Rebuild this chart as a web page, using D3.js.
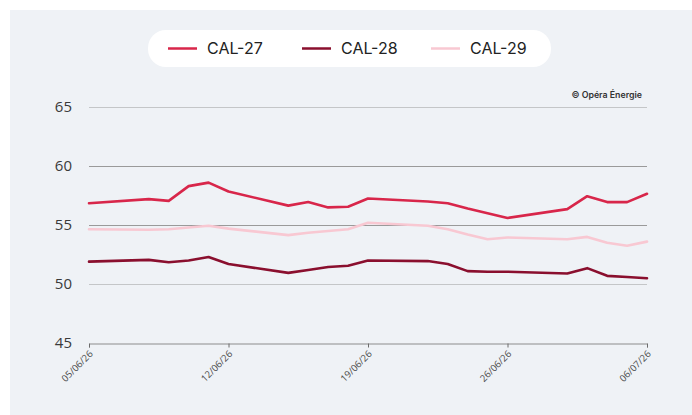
<!DOCTYPE html>
<html>
<head>
<meta charset="utf-8">
<script src="https://cdn.jsdelivr.net/npm/d3@7"></script>
<style>
  html, body { margin: 0; padding: 0; background: #ffffff; }
  svg { display: block; }
</style>
</head>
<body>
<svg id="chart" width="692" height="415"></svg>
<script>
// ---- Data ----
const dates = ["2026-06-05","2026-06-08","2026-06-09","2026-06-10","2026-06-11","2026-06-12",
  "2026-06-15","2026-06-16","2026-06-17","2026-06-18","2026-06-19",
  "2026-06-22","2026-06-23","2026-06-24","2026-06-25","2026-06-26",
  "2026-06-29","2026-06-30","2026-07-01","2026-07-02","2026-07-03"];
const seriesNames = ["CAL-27", "CAL-28", "CAL-29"];
const cal27 = [56.8, 57.15, 57.0, 58.25, 58.55, 57.8, 56.6, 56.9, 56.45, 56.5, 57.2,
  56.95, 56.8, 56.35, 55.95, 55.55, 56.3, 57.4, 56.9, 56.9, 57.6];
const cal28 = [51.85, 52.0, 51.8, 51.95, 52.25, 51.65, 50.9, 51.15, 51.4, 51.5, 51.95,
  51.9, 51.65, 51.05, 51.0, 51.0, 50.85, 51.3, 50.65, 50.55, 50.45];
const cal29 = [54.6, 54.55, 54.6, 54.75, 54.9, 54.65, 54.1, 54.3, 54.45, 54.6, 55.15,
  54.9, 54.6, 54.15, 53.75, 53.9, 53.75, 53.95, 53.45, 53.2, 53.55];
const yTicks = [45, 50, 55, 60, 65];
const xTickDates = ["2026-06-05","2026-06-12","2026-06-19","2026-06-26","2026-07-03"];
const xTickLabels = ["05/06/26","12/06/26","19/06/26","26/06/26","06/07/26"];
const credit = "© Opéra Énergie";

// ---- Setup ----
const parse = d3.utcParse("%Y-%m-%d");
const dateObjs = dates.map(parse);
const tickDateObjs = xTickDates.map(parse);
const colors = ["#d8264a", "#8a0f2e", "#f8c8d2"];
const seriesVals = [cal27, cal28, cal29];

const svg = d3.select("#chart");

// panel background
svg.append("rect").attr("x", 10).attr("y", 10).attr("width", 682).attr("height", 405)
  .attr("fill", "#eff2f6");

const x = d3.scaleUtc().domain([dateObjs[0], dateObjs[dateObjs.length - 1]]).range([89, 647]);
const y = d3.scaleLinear().domain([45, 65]).range([342.5, 106.5]);

// gridlines
svg.append("g").selectAll("line").data(yTicks.filter(t => t !== 45)).join("line")
  .attr("x1", 89).attr("x2", 647)
  .attr("y1", d => Math.round(y(d)) + 0.5).attr("y2", d => Math.round(y(d)) + 0.5)
  .attr("stroke", d => (d === 60 || d === 55) ? "#9a9a9a" : "#c4c6c8")
  .attr("stroke-width", 1);

// y labels
svg.append("g").selectAll("text").data(yTicks).join("text")
  .attr("x", 72).attr("y", d => y(d))
  .attr("dy", "0.35em")
  .attr("text-anchor", "end")
  .attr("font-family", "'Open Sans', sans-serif")
  .attr("font-size", 15)
  .attr("fill", "#3a3a3a")
  .text(d => d);

// x axis
const xAxis = d3.axisBottom(x)
  .tickValues(tickDateObjs)
  .tickSize(4)
  .tickPadding(3)
  .tickFormat((d, i) => xTickLabels[i]);
const gx = svg.append("g").attr("transform", `translate(0,${Math.round(y(45)) + 0.5})`).call(xAxis);
gx.select(".domain").attr("stroke", "#8c8c8c");
gx.selectAll(".tick line").attr("stroke", "#6c6c6c");
gx.selectAll(".tick text")
  .attr("font-family", "'Open Sans', sans-serif")
  .attr("font-size", 9.5)
  .attr("fill", "#4a4a4a")
  .attr("text-anchor", "end")
  .attr("dy", "0.3em")
  .attr("transform", "translate(-3,4) rotate(-45)");

// lines
const line = d3.line().x((d, i) => x(dateObjs[i])).y(d => y(d));
svg.append("g").selectAll("path").data(seriesVals).join("path")
  .attr("d", d => line(d))
  .attr("fill", "none")
  .attr("stroke", (d, i) => colors[i])
  .attr("stroke-width", 2.6)
  .attr("stroke-linejoin", "round")
  .attr("stroke-linecap", "round");

// legend
svg.append("rect").attr("x", 148).attr("y", 30).attr("width", 403).attr("height", 37)
  .attr("rx", 18).attr("fill", "#ffffff");
const legendX = [168, 302, 431];
const lg = svg.append("g").selectAll("g").data(seriesNames).join("g")
  .attr("transform", (d, i) => `translate(${legendX[i]},48.5)`);
lg.append("line").attr("x1", 0).attr("x2", 29).attr("y1", 0).attr("y2", 0)
  .attr("stroke", (d, i) => colors[i]).attr("stroke-width", 2.5);
lg.append("text").attr("x", 39).attr("y", 0).attr("dy", "0.36em")
  .attr("font-family", "Inter, sans-serif").attr("font-size", 16)
  .attr("fill", "#222").text(d => d);

// credit
svg.append("text").attr("x", 642).attr("y", 98)
  .attr("text-anchor", "end")
  .attr("font-family", "Inter, sans-serif").attr("font-size", 8.8).attr("font-weight", 600)
  .attr("fill", "#333").text(credit);
</script>
</body>
</html>
